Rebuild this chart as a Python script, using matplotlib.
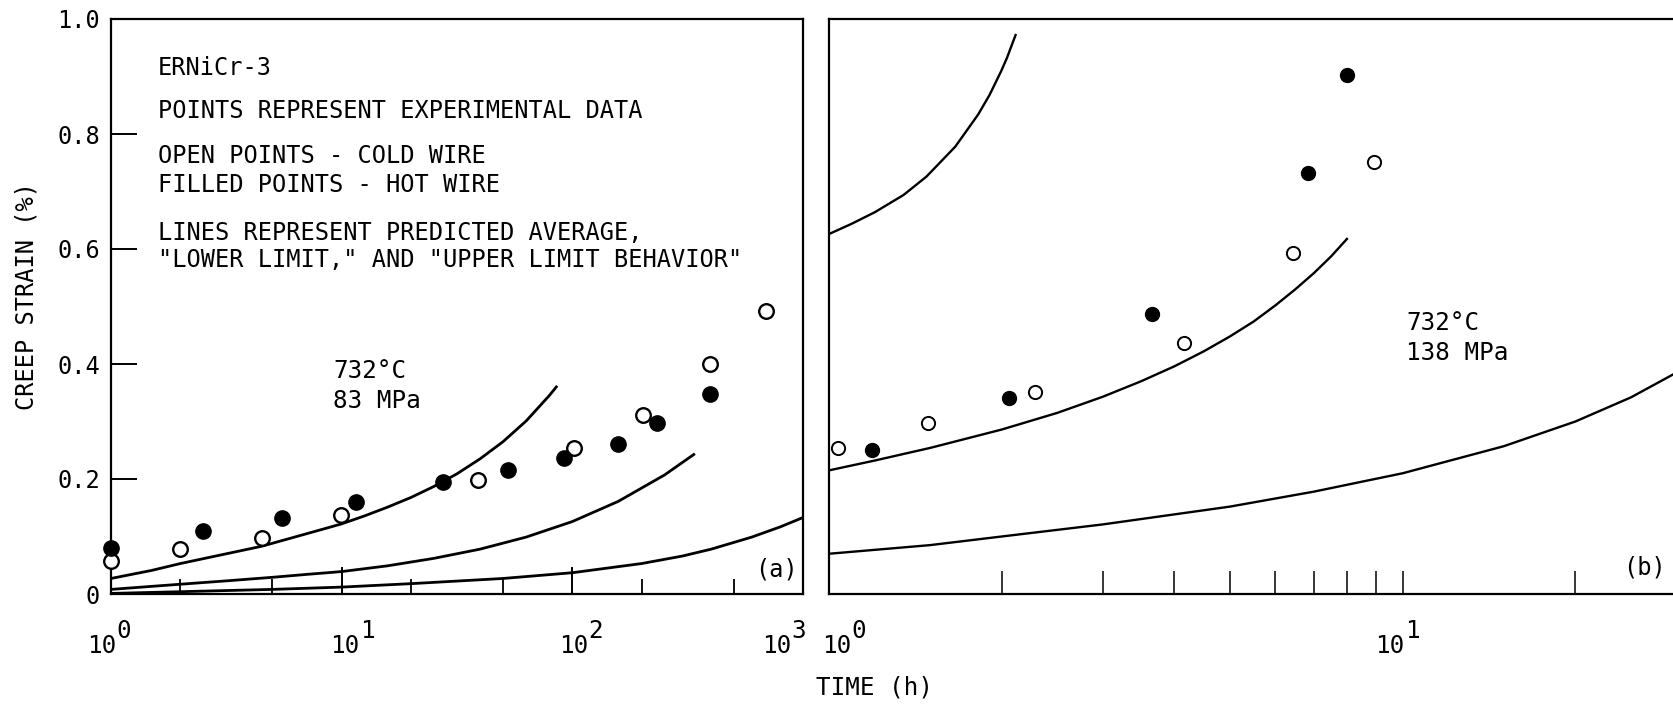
import matplotlib
matplotlib.use('Agg')
import matplotlib.pyplot as plt
from matplotlib.ticker import FixedLocator, FixedFormatter, NullLocator, NullFormatter
from matplotlib.transforms import blended_transform_factory, offset_copy

plt.rcParams['font.family'] = ['DejaVu Sans Mono', 'DejaVu Sans']

W, H = 1673, 706

# ---- (a) 732 C, 83 MPa ----
a_open_t = [1.0, 2.0, 4.5, 9.9, 38.9, 101.6, 202, 396, 690]
a_open_e = [0.057, 0.079, 0.098, 0.137, 0.199, 0.254, 0.312, 0.400, 0.492]
a_fill_t = [1.0, 2.5, 5.5, 11.5, 27.6, 52.4, 91.6, 157, 234, 396]
a_fill_e = [0.080, 0.109, 0.133, 0.160, 0.195, 0.216, 0.236, 0.261, 0.297, 0.348]

a_upper_t = [1, 1.5, 2, 3, 4.5, 6, 8, 10, 12.6, 15.8, 20, 25.1, 31.6, 39.8,
             50.1, 63.1, 79.4, 86]
a_upper_e = [0.027, 0.041, 0.053, 0.068, 0.083, 0.097, 0.111, 0.122, 0.136,
             0.151, 0.168, 0.187, 0.209, 0.235, 0.265, 0.301, 0.345, 0.362]
a_avg_t = [1, 2, 3.2, 5, 7, 10, 15.8, 25.1, 39.8, 63.1, 100, 158, 251, 340]
a_avg_e = [0.008, 0.017, 0.023, 0.029, 0.034, 0.039, 0.049, 0.062, 0.078,
           0.099, 0.126, 0.161, 0.207, 0.244]
a_lower_t = [1, 2, 5, 10, 20, 50, 100, 200, 300, 400, 600, 800, 1000]
a_lower_e = [0.001, 0.004, 0.008, 0.012, 0.018, 0.027, 0.037, 0.053, 0.066,
             0.078, 0.099, 0.117, 0.133]

# ---- (b) 732 C, 138 MPa ----
b_open_t = [1.035, 1.49, 2.29, 4.16, 6.44, 8.92]
b_open_e = [0.254, 0.298, 0.352, 0.437, 0.593, 0.751]
b_fill_t = [1.187, 2.06, 3.65, 6.84, 7.99]
b_fill_e = [0.250, 0.341, 0.487, 0.732, 0.903]

b_upper_t = [1.0, 1.096, 1.202, 1.349, 1.479, 1.66, 1.82, 1.905, 1.995, 2.042,
             2.118]
b_upper_e = [0.626, 0.644, 0.664, 0.694, 0.726, 0.778, 0.834, 0.868, 0.909,
             0.932, 0.974]
b_avg_t = [1.0, 1.2, 1.5, 2.0, 2.5, 3.0, 3.5, 4.0, 4.5, 5.0, 5.5, 6.0, 6.5,
           7.0, 7.5, 8.02]
b_avg_e = [0.215, 0.232, 0.254, 0.286, 0.315, 0.343, 0.370, 0.396, 0.422,
           0.448, 0.474, 0.502, 0.530, 0.558, 0.587, 0.619]
b_lower_t = [1, 1.5, 2, 3, 5, 7, 10, 15, 20, 25, 30]
b_lower_e = [0.070, 0.085, 0.100, 0.121, 0.152, 0.178, 0.210, 0.257, 0.300,
             0.342, 0.385]

y_ticks = [0, 0.2, 0.4, 0.6, 0.8, 1.0]
y_tick_labels = ['0', '0.2', '0.4', '0.6', '0.8', '1.0']
a_decades = [0, 1, 2, 3]
b_decades = [0, 1]


def px(x, y):
    return x / W, 1 - y / H


fig = plt.figure(figsize=(W / 100, H / 100), dpi=100)
ax1 = fig.add_axes([111 / W, 112 / H, 692 / W, 575 / H])
ax2 = fig.add_axes([829 / W, 112 / H, 1147.4 / W, 575 / H])

for ax in (ax1, ax2):
    ax.set_xscale('log')
    ax.set_ylim(0, 1.0)
    for s in ax.spines.values():
        s.set_linewidth(1.6)
    ax.tick_params(which='both', top=False, right=False, direction='in',
                   labelbottom=False, colors='black')

ax1.set_xlim(1, 1000)
ax2.set_xlim(1, 100)

# panel (a)
lw = 2.0
for t, e in ((a_upper_t, a_upper_e), (a_avg_t, a_avg_e), (a_lower_t, a_lower_e)):
    ax1.plot(t, e, color='black', lw=lw, solid_capstyle='butt',
             solid_joinstyle='round')
ax1.plot(a_open_t, a_open_e, 'o', ms=10.5, mfc='white', mec='black', mew=1.7,
         clip_on=False, zorder=5)
ax1.plot(a_fill_t, a_fill_e, 'o', ms=11, mfc='black', mec='black',
         clip_on=False, zorder=5)

ax1.xaxis.set_major_locator(FixedLocator([10, 100]))
ax1.xaxis.set_minor_locator(FixedLocator([2, 5, 20, 50, 200, 500]))
ax1.xaxis.set_major_formatter(NullFormatter())
ax1.xaxis.set_minor_formatter(NullFormatter())
ax1.tick_params(axis='x', which='major', length=19.5, width=1.4)
ax1.tick_params(axis='x', which='minor', length=10.5, width=1.3)
ax1.yaxis.set_major_locator(FixedLocator(y_ticks))
ax1.yaxis.set_major_formatter(FixedFormatter(y_tick_labels))
ax1.yaxis.set_minor_locator(NullLocator())
ax1.tick_params(axis='y', length=19, width=1.4, pad=8, labelsize=17)

# panel (b)
lw2 = 1.7
for t, e in ((b_upper_t, b_upper_e), (b_avg_t, b_avg_e), (b_lower_t, b_lower_e)):
    ax2.plot(t, e, color='black', lw=lw2, solid_capstyle='butt',
             solid_joinstyle='round')
ax2.plot(b_open_t, b_open_e, 'o', ms=9.5, mfc='white', mec='black', mew=1.4,
         zorder=5)
ax2.plot(b_fill_t, b_fill_e, 'o', ms=10, mfc='black', mec='black', zorder=5)

ax2.xaxis.set_major_locator(FixedLocator([10]))
ax2.xaxis.set_minor_locator(FixedLocator([2, 3, 4, 5, 6, 7, 8, 9, 20, 30, 40,
                                          50, 60, 70, 80, 90]))
ax2.xaxis.set_major_formatter(NullFormatter())
ax2.xaxis.set_minor_formatter(NullFormatter())
ax2.tick_params(axis='x', which='both', length=16.5, width=1.1)
ax2.yaxis.set_major_locator(NullLocator())
ax2.yaxis.set_minor_locator(NullLocator())


# decade labels: "10" with a full-size raised exponent
def decade_labels(ax, decades, shifts):
    base = blended_transform_factory(ax.transData, ax.transAxes)
    for d, sh in zip(decades, shifts):
        t10 = offset_copy(base, fig=fig, x=sh + 6, y=-58.7, units='dots')
        te = offset_copy(base, fig=fig, x=sh + 6, y=-44, units='dots')
        ax.text(10 ** d, 0, '10', transform=t10, ha='right', va='baseline',
                fontsize=17.5)
        ax.text(10 ** d, 0, str(d), transform=te, ha='left', va='baseline',
                fontsize=17.5)


decade_labels(ax1, a_decades, [-1, 12, 10, -17.5])
decade_labels(ax2, b_decades, [16, -4])

fig.text(*px(874, 687), 'TIME (h)', ha='center', va='center', fontsize=17.5)
fig.text(*px(27, 296), 'CREEP STRAIN (%)', ha='center', va='center',
         rotation=90, fontsize=17)

note = dict(ha='left', va='baseline', fontsize=17)
fig.text(*px(158, 75), 'ERNiCr-3', **note)
fig.text(*px(158, 118), 'POINTS REPRESENT EXPERIMENTAL DATA', **note)
fig.text(*px(158, 163), 'OPEN POINTS - COLD WIRE', **note)
fig.text(*px(158, 192), 'FILLED POINTS - HOT WIRE', **note)
fig.text(*px(158, 240), 'LINES REPRESENT PREDICTED AVERAGE,', **note)
fig.text(*px(158, 267), '"LOWER LIMIT," AND "UPPER LIMIT BEHAVIOR"', **note)

cond = dict(ha='left', va='baseline', fontsize=17.5)
fig.text(*px(333, 378), '732°C', **cond)
fig.text(*px(333, 408), '83 MPa', **cond)
fig.text(*px(1406, 330), '732°C', **cond)
fig.text(*px(1406, 360), '138 MPa', **cond)

fig.text(*px(776, 570), '(a)', ha='center', va='center', fontsize=17)
fig.text(*px(1645, 567), '(b)', ha='center', va='center', fontsize=17)

fig.savefig('out.png', dpi=100)
